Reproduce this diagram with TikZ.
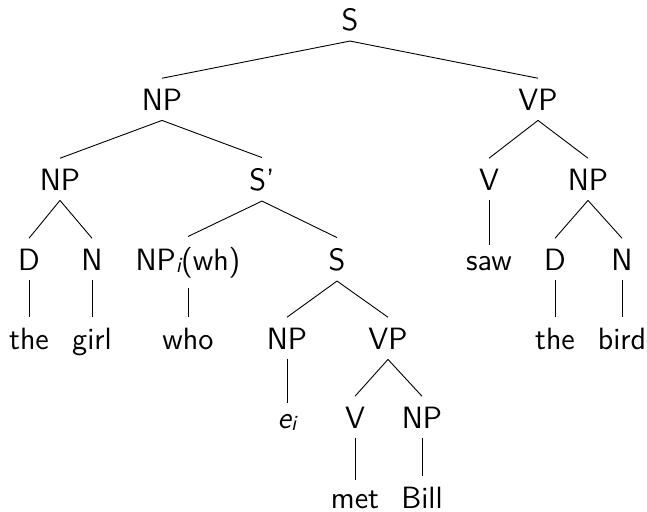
\documentclass[tikz,border=0pt]{standalone}
\usepackage{fontspec}
\newcommand{\subi}{\raisebox{-1.4pt}{\fontsize{10.8}{12}\selectfont\itshape i}}
\begin{document}
\begin{tikzpicture}[x=0.5pt,y=-0.5pt,
  tn/.style={anchor=base,font=\sffamily\fontsize{15.4}{18}\selectfont,inner sep=5pt},
  br/.style={line width=0.45pt}]
\useasboundingbox (0,0) rectangle (647,511);
% levels (baselines)
\def\la{30}\def\lb{110}\def\lc{190}\def\ld{270}\def\le{349}\def\lf{428}\def\lg{508}
\node[tn] (s) at (350,\la) {S};
\node[tn] (np) at (162,\lb) {NP};
\node[tn] (vp) at (538,\lb) {VP};
\node[tn] (np2) at (60,\lc) {NP};
\node[tn] (sbar) at (262,\lc) {S'};
\node[tn] (v) at (489,\lc) {V};
\node[tn] (np3) at (588,\lc) {NP};
\node[tn] (d) at (29,\ld) {D};
\node[tn] (n) at (92,\ld) {N};
\node[tn] (npwh) at (188,\ld) {NP\subi(wh)};
\node[tn] (s2) at (337,\ld) {S};
\node[tn] (saw) at (489,\ld) {saw};
\node[tn] (d2) at (555,\ld) {D};
\node[tn] (n2) at (622,\ld) {N};
\node[tn] (the) at (29,\le) {the};
\node[tn] (girl) at (92,\le) {girl};
\node[tn] (who) at (188,\le) {who};
\node[tn] (np4) at (287,\le) {NP};
\node[tn] (vp2) at (388,\le) {VP};
\node[tn] (the2) at (555,\le) {the};
\node[tn] (bird) at (622,\le) {bird};
\node[tn] (ei) at (287,\lf) {\itshape e\subi};
\node[tn] (v2) at (355,\lf) {V};
\node[tn] (np5) at (422,\lf) {NP};
\node[tn] (met) at (355,\lg) {met};
\node[tn] (bill) at (422,\lg) {Bill};
\foreach \p/\c in {s/np,s/vp,np/np2,np/sbar,vp/v,vp/np3,np2/d,np2/n,sbar/npwh,sbar/s2,
  v/saw,np3/d2,np3/n2,d/the,n/girl,npwh/who,s2/np4,s2/vp2,d2/the2,n2/bird,
  np4/ei,vp2/v2,vp2/np5,v2/met,np5/bill}
  \draw[br] (\p.south) -- (\c.north);
\end{tikzpicture}
\end{document}
